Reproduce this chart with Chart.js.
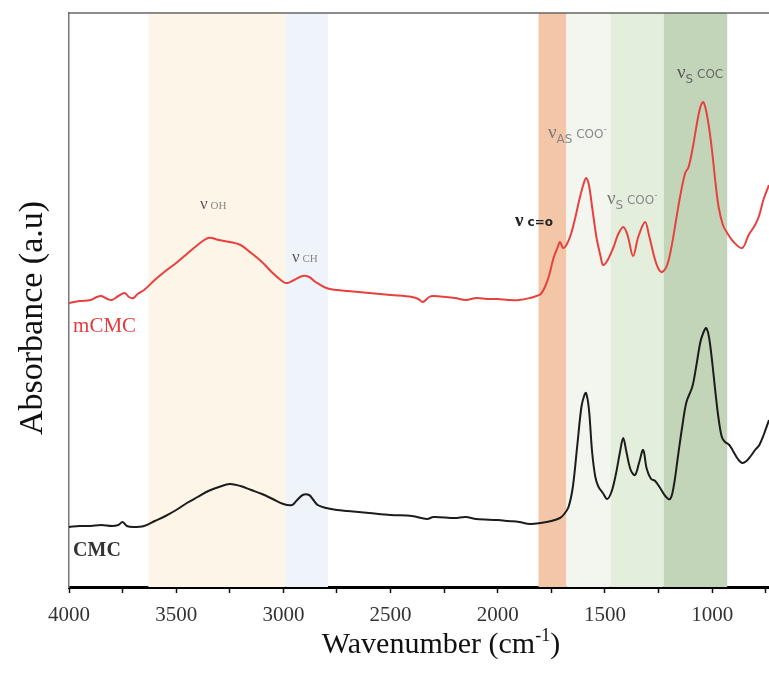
<!DOCTYPE html>
<html>
<head>
<meta charset="utf-8">
<script src="https://cdn.jsdelivr.net/npm/chart.js@4/dist/chart.umd.min.js"></script>
<style>
  html, body { margin: 0; padding: 0; background: #fff; }
  #wrap { width: 769px; height: 673px; }
</style>
</head>
<body>
<div id="wrap"><canvas id="ftirChart"></canvas></div>
<script>
// wavenumber (cm-1) and absorbance (a.u.)
const mcmcWavenumber = [
    4000, 3950, 3900, 3870, 3850, 3820, 3800, 3770, 3740, 3720, 3700, 3680, 3650, 3600,
    3550, 3500, 3450, 3400, 3350, 3300, 3250, 3200, 3150, 3100, 3050, 3000, 2980, 2950,
    2910, 2880, 2850, 2800, 2750, 2700, 2600, 2500, 2400, 2370, 2350, 2320, 2300, 2200,
    2150, 2100, 2050, 2000, 1950, 1900, 1850, 1820, 1800, 1780, 1760, 1740, 1720, 1710,
    1695, 1680, 1660, 1640, 1620, 1600, 1588, 1575, 1560, 1540, 1520, 1509, 1490, 1460,
    1440, 1415, 1395, 1369, 1345, 1313, 1295, 1270, 1250, 1233, 1210, 1190, 1170, 1150,
    1126, 1110, 1090, 1070, 1055, 1042, 1030, 1015, 1000, 985, 970, 950, 930, 900,
    860, 830, 800, 780, 760, 735,
];
const mcmcAbs = [
    284, 286, 287, 290, 291, 288, 287, 291, 294, 290, 289, 293, 297, 307,
    316, 324, 333, 342, 349, 347, 345, 342, 334, 325, 314, 305, 304, 307,
    311, 310, 305, 299, 297, 296, 294, 292, 290, 288, 285, 290, 291, 289,
    287, 289, 288, 288, 287, 287, 289, 291, 293, 300, 312, 329, 340, 345,
    339, 342, 352, 368, 387, 403, 409, 402, 380, 350, 330, 322, 326, 340,
    352, 360, 352, 331, 350, 365, 352, 330, 318, 315, 322, 340, 365, 390,
    414, 420, 440, 465, 480, 485, 478, 460, 435, 405, 380, 362, 354, 345,
    339, 352, 362, 372, 388, 402,
];

const cmcWavenumber = [
    4000, 3950, 3900, 3850, 3800, 3770, 3750, 3730, 3700, 3650, 3600, 3550, 3500, 3450,
    3400, 3350, 3300, 3250, 3200, 3150, 3100, 3050, 3000, 2960, 2940, 2910, 2880, 2860,
    2840, 2800, 2750, 2700, 2600, 2500, 2400, 2330, 2300, 2200, 2150, 2100, 2000, 1950,
    1900, 1850, 1800, 1750, 1710, 1690, 1670, 1650, 1630, 1610, 1596, 1588, 1575, 1560,
    1545, 1530, 1510, 1490, 1470, 1450, 1430, 1415, 1400, 1380, 1360, 1340, 1322, 1305,
    1285, 1266, 1240, 1215, 1196, 1180, 1160, 1140, 1120, 1093, 1075, 1055, 1040, 1028,
    1015, 1000, 985, 970, 955, 940, 920, 900, 880, 860, 840, 820, 800, 780, 760, 735,
];
const cmcAbs = [
    60, 61, 61, 62, 61, 62, 65, 61, 60, 61, 66, 71, 77, 84,
    90, 96, 100, 103, 101, 97, 93, 88, 83, 82, 86, 92, 92, 87,
    82, 79, 77, 76, 74, 72, 71, 68, 70, 69, 70, 68, 67, 66,
    65, 63, 64, 66, 69, 73, 80, 100, 140, 180, 192, 194, 178, 135,
    110, 100, 94, 88, 95, 112, 135, 149, 135, 117, 112, 125, 137, 118,
    108, 106, 98, 90, 88, 100, 130, 160, 185, 200, 220, 245, 255, 259,
    250, 225, 195, 168, 150, 145, 142, 135, 128, 124, 126, 131, 137, 142, 152, 167,
];

const xTicks = [4000, 3750, 3500, 3250, 3000, 2750, 2500, 2250, 2000, 1750, 1500, 1250, 1000, 750];
const xTickLabels = ["4000", "", "3500", "", "3000", "", "2500", "", "2000", "", "1500", "", "1000", ""];

// shaded assignment regions (cm-1)
const bandFrom = [3630, 2990, 1810, 1680, 1475, 1226];
const bandTo = [2990, 2792, 1680, 1475, 1226, 930];
const bandColors = ["#fdf5e7", "#eef4f9", "#f3c6a8", "#f2f6ef", "#e3eedc", "#c3d5b8"];

const toPoints = (xs, ys) => xs.map((x, i) => ({ x: x, y: ys[i] }));

// rich text pieces: [text, font, color, baseline shift]
const labels = [
    { x: 3389, y: 378, parts: [["ν", "17px 'Liberation Serif'", "#555", 0], [" OH", "11px 'Liberation Serif'", "#888", 0]] },
    { x: 2960, y: 325, parts: [["ν", "17px 'Liberation Serif'", "#555", 0], [" CH", "11px 'Liberation Serif'", "#888", 0]] },
    { x: 1920, y: 361, parts: [["ν", "bold 19px 'Liberation Serif'", "#222", 0], [" c=o", "bold 12px 'DejaVu Sans'", "#222", 0]] },
    { x: 1766, y: 449, parts: [["ν", "19px 'Liberation Serif'", "#777", 0], ["AS", "12px 'DejaVu Sans'", "#888", 5], [" COO", "12px 'DejaVu Sans'", "#888", 0], ["-", "9px 'DejaVu Sans'", "#888", -6]] },
    { x: 1491, y: 383, parts: [["ν", "19px 'Liberation Serif'", "#777", 0], ["S", "12px 'DejaVu Sans'", "#888", 5], [" COO", "12px 'DejaVu Sans'", "#888", 0], ["-", "9px 'DejaVu Sans'", "#888", -6]] },
    { x: 1164, y: 509, parts: [["ν", "19px 'Liberation Serif'", "#555", 0], ["S", "12px 'DejaVu Sans'", "#666", 5], [" COC", "12px 'DejaVu Sans'", "#666", 0]] },
    { x: 3981, y: 255, parts: [["mCMC", "21px 'Liberation Serif'", "#e53b3b", 0]] },
    { x: 3981, y: 31, parts: [["CMC", "bold 20px 'Liberation Serif'", "#333", 0]] },
];

function drawParts(ctx, x, y, parts) {
    let cx = x;
    parts.forEach(([t, font, color, dy]) => {
        ctx.font = font;
        ctx.fillStyle = color;
        ctx.fillText(t, cx, y + dy);
        cx += ctx.measureText(t).width;
    });
}

const bandsPlugin = {
    id: "bands",
    beforeDatasetsDraw(chart) {
        const { ctx, chartArea, scales } = chart;
        ctx.save();
        bandFrom.forEach((from, i) => {
            const x1 = scales.x.getPixelForValue(from);
            const x2 = scales.x.getPixelForValue(bandTo[i]);
            ctx.fillStyle = bandColors[i];
            ctx.fillRect(x1, chartArea.top, x2 - x1, chartArea.bottom - chartArea.top);
        });
        ctx.restore();
    },
    afterDraw(chart) {
        const { ctx, chartArea, scales } = chart;
        ctx.save();
        // top frame line
        ctx.strokeStyle = "#666";
        ctx.lineWidth = 1.5;
        ctx.beginPath();
        ctx.moveTo(chartArea.left, chartArea.top);
        ctx.lineTo(chartArea.right, chartArea.top);
        ctx.stroke();

        ctx.textAlign = "left";
        ctx.textBaseline = "alphabetic";
        labels.forEach((l) => {
            drawParts(ctx, scales.x.getPixelForValue(l.x), scales.y.getPixelForValue(l.y), l.parts);
        });

        // axis titles
        ctx.fillStyle = "#111";
        const main = "Wavenumber (cm";
        const sup = "-1";
        ctx.font = "30px 'Liberation Serif'";
        const w1 = ctx.measureText(main).width;
        ctx.font = "18px 'Liberation Serif'";
        const w2 = ctx.measureText(sup).width;
        ctx.font = "30px 'Liberation Serif'";
        const w3 = ctx.measureText(")").width;
        let tx = 441 - (w1 + w2 + w3) / 2;
        ctx.fillText(main, tx, 653);
        ctx.font = "18px 'Liberation Serif'";
        ctx.fillText(sup, tx + w1, 641);
        ctx.font = "30px 'Liberation Serif'";
        ctx.fillText(")", tx + w1 + w2, 653);

        ctx.translate(42, 318);
        ctx.rotate(-Math.PI / 2);
        ctx.textAlign = "center";
        ctx.font = "34px 'Liberation Serif'";
        ctx.fillText("Absorbance (a.u)", 0, 0);
        ctx.restore();
    },
};

const ctx = document.getElementById("ftirChart").getContext("2d");
const ftirChart = new Chart(ctx, {
    type: "line",
    data: {
        datasets: [
            {
                label: "mCMC",
                data: toPoints(mcmcWavenumber, mcmcAbs),
                borderColor: "#e8403f",
                borderWidth: 2,
                pointRadius: 0,
                tension: 0.35,
            },
            {
                label: "CMC",
                data: toPoints(cmcWavenumber, cmcAbs),
                borderColor: "#1c1c1c",
                borderWidth: 2,
                pointRadius: 0,
                tension: 0.35,
            },
        ],
    },
    options: {
        responsive: true,
        maintainAspectRatio: false,
        animation: false,
        layout: { padding: { top: 13, right: 0, left: 0, bottom: 0 } },
        plugins: {
            legend: { display: false },
            tooltip: { enabled: false },
        },
        scales: {
            x: {
                type: "linear",
                reverse: true,
                min: 735,
                max: 4000,
                afterBuildTicks: (scale) => {
                    scale.ticks = xTicks.map((v) => ({ value: v }));
                },
                afterFit: (scale) => {
                    scale.height = 86;
                    scale.paddingLeft = 0;
                    scale.paddingRight = 0;
                },
                ticks: {
                    autoSkip: false,
                    maxRotation: 0,
                    padding: 10,
                    color: "#333",
                    font: { family: "'Liberation Serif'", size: 21 },
                    callback: (value) => xTickLabels[xTicks.indexOf(value)] ?? "",
                },
                grid: {
                    drawOnChartArea: false,
                    drawTicks: true,
                    tickLength: 6,
                    tickColor: "#111",
                    tickWidth: 1.5,
                },
                border: { color: "#000", width: 3 },
            },
            y: {
                min: 0,
                max: 574,
                afterFit: (scale) => {
                    scale.width = 69;
                },
                ticks: { display: false },
                grid: { display: false, drawTicks: false },
                border: { color: "#777", width: 1.5 },
            },
        },
    },
    plugins: [bandsPlugin],
});
</script>
</body>
</html>
